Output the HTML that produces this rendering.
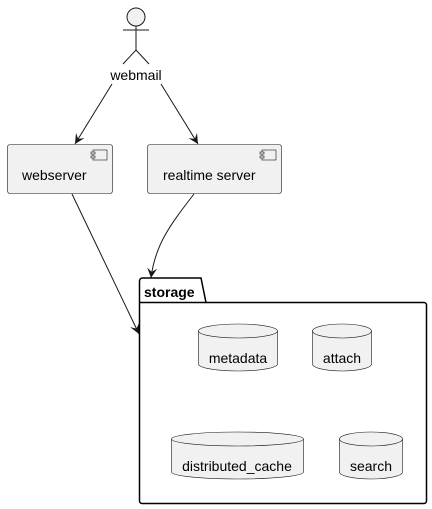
<!DOCTYPE html>
<html><head><style>body{margin:0;background:#fff}svg{display:block}text{font-family:"Liberation Sans",sans-serif}</style></head><body>
<svg width="432" height="509" viewBox="0 0 432 509">
<defs><marker id="a" markerWidth="12" markerHeight="12" refX="10" refY="5" orient="auto" markerUnits="userSpaceOnUse"><path d="M0,0 L10,5 L0,10 L4,5 Z" fill="#181818"/></marker></defs>
<g stroke="#181818" stroke-width="1" fill="none">
<circle cx="136" cy="17" r="9" fill="#f1f1f1"/>
<path d="M136,26V50M123,30H149M123,64L136,50L149,64"/>
</g>
<text x="136" y="80" font-size="14" text-anchor="middle">webmail</text>
<g stroke="#181818" fill="none">
<path d="M112,84L75,144" marker-end="url(#a)"/>
<path d="M161,84L198,144" marker-end="url(#a)"/>
<path d="M72,194L139,334" marker-end="url(#a)"/>
<path d="M194,194C170,225 155,245 151,278" marker-end="url(#a)"/>
</g>
<g stroke="#181818" stroke-width="0.6" fill="#f1f1f1">
<rect x="7.5" y="144.5" width="105" height="49" rx="2.5"/>
<rect x="147.5" y="144.5" width="134" height="49" rx="2.5"/>
<rect x="93" y="150" width="14" height="10"/><rect x="91" y="152" width="4" height="2"/><rect x="91" y="156" width="4" height="2"/>
<rect x="262" y="150" width="14" height="10"/><rect x="260" y="152" width="4" height="2"/><rect x="260" y="156" width="4" height="2"/>
</g>
<text x="22" y="180" font-size="14">webserver</text>
<text x="163" y="180" font-size="14">realtime server</text>
<path d="M139.5,302.5V281a3,3 0 0 1 3,-3H201l5,24.5H424a2.5,2.5 0 0 1 2.5,2.5V501a2.5,2.5 0 0 1 -2.5,2.5H142a2.5,2.5 0 0 1 -2.5,-2.5Z" fill="#fff" stroke="#000" stroke-width="1.5"/>
<path d="M139.5,302.5H206" stroke="#000" stroke-width="1.5"/>
<text x="144" y="297" font-size="14" font-weight="bold">storage</text>
<g stroke="#181818" stroke-width="0.6" fill="#f1f1f1">
<path d="M198.5,331a39.5,7 0 0 1 79,0V364a39.5,7 0 0 1 -79,0Z"/><path d="M198.5,331a39.5,7 0 0 0 79,0" fill="none"/>
<path d="M312.5,331a29.5,7 0 0 1 59,0V364a29.5,7 0 0 1 -59,0Z"/><path d="M312.5,331a29.5,7 0 0 0 59,0" fill="none"/>
<path d="M171.5,439a66,7 0 0 1 132,0V472a66,7 0 0 1 -132,0Z"/><path d="M171.5,439a66,7 0 0 0 132,0" fill="none"/>
<path d="M339.5,439a31.5,7 0 0 1 63,0V472a31.5,7 0 0 1 -63,0Z"/><path d="M339.5,439a31.5,7 0 0 0 63,0" fill="none"/>
</g>
<g font-size="14" text-anchor="middle">
<text x="238" y="363">metadata</text>
<text x="342" y="363">attach</text>
<text x="237" y="471">distributed_cache</text>
<text x="371" y="471">search</text>
</g>
</svg>
</body></html>
